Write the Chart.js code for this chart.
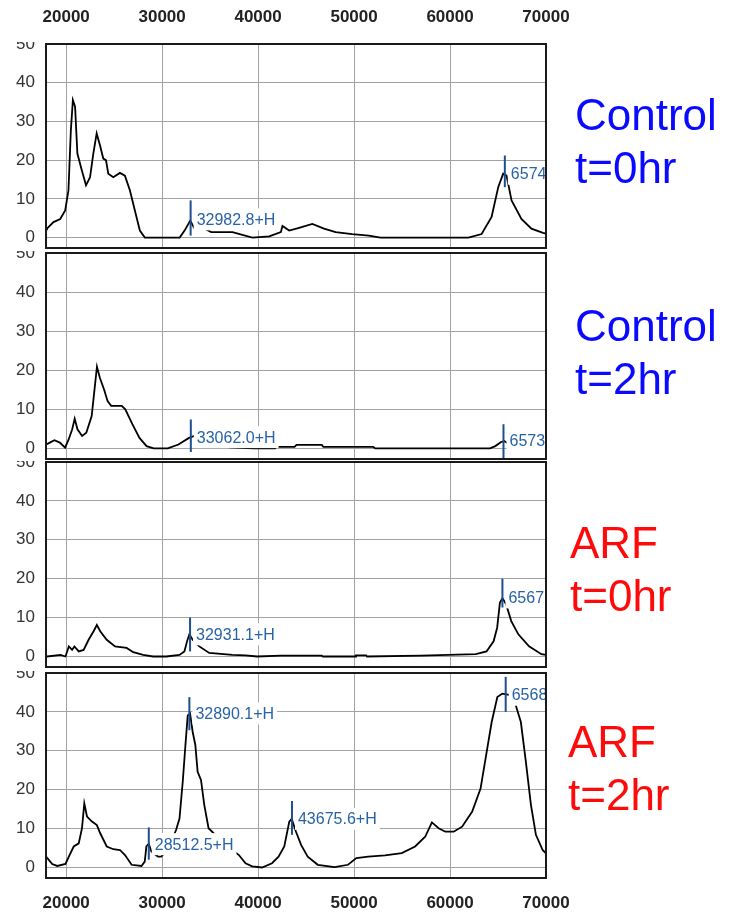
<!DOCTYPE html>
<html>
<head>
<meta charset="utf-8">
<script src="https://cdn.jsdelivr.net/npm/chart.js@4.4.0/dist/chart.umd.min.js"></script>
<style>
  html, body { margin: 0; padding: 0; background: #fff; }
  #page { position: relative; width: 736px; height: 915px; overflow: hidden; }
  canvas { position: absolute; left: 0; }
  .tag { position: absolute; font: 44px/53px 'Liberation Sans', Arial, sans-serif; white-space: nowrap; }
  .ctrl { color: #0a0aff; }
  .arf { color: #ff0a0a; }
</style>
</head>
<body>
<div id="page">
  <canvas id="p1" width="600" height="250" style="top:0px"></canvas>
  <canvas id="p2" width="600" height="211" style="top:250px"></canvas>
  <canvas id="p3" width="600" height="208" style="top:461px"></canvas>
  <canvas id="p4" width="600" height="246" style="top:669px"></canvas>
  <div class="tag ctrl" style="left:575px;top:88px">Control<br>t=0hr</div>
  <div class="tag ctrl" style="left:575px;top:299px">Control<br>t=2hr</div>
  <div class="tag arf" style="left:570px;top:516px">ARF<br>t=0hr</div>
  <div class="tag arf" style="left:568px;top:715px">ARF<br>t=2hr</div>
</div>
<script>
// mass axis ticks (Da)
const massTicks = [20000, 30000, 40000, 50000, 60000, 70000];
const intensityTicks = [0, 10, 20, 30, 40, 50];

// Control t=0hr
const ctrl0Mass = [17900, 18000, 18680, 19380, 19900, 20240, 20490, 20700, 20930, 21170, 21630, 22070, 22490, 22830, 23180, 23530, 23870, 24150, 24390, 24910, 25600, 26120, 26640, 27160, 27680, 28200, 31830, 32340, 32930, 33380, 34200, 35110, 37330, 39400, 41160, 42370, 42540, 43240, 44270, 45650, 46870, 48080, 49800, 51540, 52750, 61910, 63290, 64330, 65020, 65540, 65890, 66410, 67440, 68480, 69690, 70000];
const ctrl0Int = [2.1, 2.3, 4.0, 4.8, 7.0, 12.2, 27.7, 35.5, 33.8, 21.7, 17.4, 13.5, 15.6, 21.7, 26.9, 23.8, 20.4, 20.0, 16.5, 15.6, 16.7, 16.0, 12.2, 7.0, 1.8, 0, 0, 1.8, 4.4, 2.3, 2.6, 1.4, 1.4, 0, 0.3, 1.4, 3.0, 1.8, 2.5, 3.5, 2.3, 1.4, 0.9, 0.5, 0, 0, 0.9, 5.3, 13.0, 16.5, 16.0, 9.6, 4.8, 2.3, 1.2, 1.0];
const ctrl0Peaks = [
  { mass: 32970, low: 0.5, high: 9.6, text: '32982.8+H', at: 4.7 },
  { mass: 65710, low: 13.0, high: 21.2, text: '6574', at: 16.5 }
];

// Control t=2hr
const ctrl2Mass = [17900, 18150, 18780, 19340, 19890, 20260, 20630, 20890, 21180, 21660, 22100, 22660, 22920, 23210, 23510, 23950, 24320, 24690, 25790, 26160, 26900, 27640, 28380, 29110, 30590, 31700, 32800, 33360, 35000, 37000, 39520, 41770, 41950, 43800, 44000, 46640, 46800, 51990, 52200, 64170, 64720, 65280, 65650, 66200, 66750, 70000];
const ctrl2Int = [1.0, 1.3, 2.1, 1.5, 0.2, 2.3, 4.9, 7.6, 4.9, 3.2, 4.0, 8.3, 14.3, 20.9, 18.1, 15.1, 12.1, 10.9, 10.9, 10.0, 6.2, 2.7, 0.6, 0, 0, 1.0, 2.7, 3.2, 1.5, 0.3, 0, 0, 0.4, 0.4, 0.9, 0.9, 0.4, 0.4, 0, 0, 0.6, 1.6, 1.9, 1.0, 0.4, 0.2];
const ctrl2Peaks = [
  { mass: 32990, low: -0.9, high: 7.4, text: '33062.0+H', at: 2.9 },
  { mass: 65570, low: -2.6, high: 6.2, text: '6573', at: 1.9 }
];

// ARF t=0hr
const arf0Mass = [17900, 18040, 19410, 19930, 20280, 20620, 20860, 21310, 21820, 22340, 22860, 23200, 23550, 24230, 25090, 26300, 26990, 28020, 29050, 30430, 31810, 32320, 32600, 32840, 33180, 33870, 34910, 37320, 38690, 39900, 42400, 46640, 46750, 50110, 50200, 51260, 51350, 56970, 62690, 63800, 64540, 64910, 65200, 65460, 65830, 66380, 67120, 68230, 69520, 70000];
const arf0Int = [0.2, 0, 0.4, 0, 2.6, 1.7, 2.6, 1.3, 1.7, 4.3, 6.5, 8.1, 6.5, 4.3, 2.6, 2.2, 1.1, 0.4, 0, 0, 0.4, 1.3, 3.9, 5.7, 4.3, 2.6, 0.9, 0.4, 0.3, 0, 0.2, 0.2, 0, 0, 0.3, 0.3, 0, 0.2, 0.6, 1.3, 3.9, 7.4, 13.9, 15.0, 13.5, 9.1, 5.7, 2.6, 0.6, 0.4];
const arf0Peaks = [
  { mass: 32910, low: 1.3, high: 10.0, text: '32931.1+H', at: 5.7 },
  { mass: 65460, low: 12.6, high: 20.0, text: '6567', at: 15.2 }
];

// ARF t=2hr
const arf2Mass = [17900, 18040, 18550, 19070, 19930, 20280, 20790, 21310, 21650, 21890, 22170, 22690, 23200, 23550, 24230, 24920, 25610, 26130, 26820, 27850, 28190, 28360, 28610, 28880, 29230, 29570, 29910, 30700, 31460, 31810, 32150, 32430, 32670, 32910, 33180, 33460, 33700, 34050, 34390, 34840, 36500, 38000, 38690, 39380, 40410, 41450, 42130, 42730, 43250, 43500, 43950, 44480, 45170, 46220, 47970, 49370, 50240, 51470, 53220, 54970, 56360, 57410, 58110, 58810, 59510, 60380, 61260, 62310, 63180, 63880, 64340, 64930, 65450, 66150, 66850, 67380, 67900, 68430, 68950, 69650, 70000];
const arf2Int = [2.8, 2.4, 0.9, 0.4, 0.9, 2.8, 5.4, 6.2, 10.1, 16.5, 13.1, 11.8, 10.9, 8.8, 5.4, 4.7, 4.5, 3.2, 0.7, 0.4, 1.5, 5.4, 6.1, 4.1, 3.4, 2.8, 2.8, 5.0, 9.7, 12.6, 22.1, 31.5, 39.1, 39.6, 34.9, 31.5, 24.6, 22.5, 16.1, 10.1, 6.0, 3.2, 1.1, 0.3, 0, 1.1, 2.8, 5.4, 11.8, 12.5, 9.2, 5.8, 2.8, 0.7, 0.1, 0.7, 2.4, 2.8, 3.1, 3.7, 5.4, 7.9, 11.6, 10.1, 9.2, 9.2, 10.5, 14.4, 20.3, 30.6, 37.4, 43.8, 44.7, 44.4, 41.7, 37.4, 27.2, 16.1, 8.4, 4.5, 3.6];
const arf2Peaks = [
  { mass: 28610, low: 2.0, high: 10.3, text: '28512.5+H', at: 6.0 },
  { mass: 32840, low: 35.3, high: 43.8, text: '32890.1+H', at: 39.6 },
  { mass: 43530, low: 8.4, high: 17.1, text: '43675.6+H', at: 12.5 },
  { mass: 65800, low: 40.0, high: 49.0, text: '6568', at: 44.4 }
];

const FONT = "'Liberation Sans', Arial, sans-serif";
Chart.defaults.font.family = FONT;

// box around each plot
const frame = {
  id: 'frame',
  afterDraw(chart) {
    const { ctx, chartArea: a } = chart;
    ctx.save();
    ctx.strokeStyle = '#1a1a1a';
    ctx.lineWidth = 2;
    ctx.strokeRect(a.left, a.top, a.right - a.left, a.bottom - a.top);
    ctx.restore();
  }
};

// the "50" label is half hidden behind the panel above
const clipTopLabel = {
  id: 'clipTopLabel',
  beforeDraw(chart) {
    const s = chart.scales.y;
    if (s._clipWrapped) return;
    const orig = s.drawLabels;
    s.drawLabels = function (area) {
      const c = this.ctx;
      c.save();
      c.beginPath();
      c.rect(0, chart.chartArea.top - 2, this.right, chart.height);
      c.clip();
      orig.call(this, area);
      c.restore();
    };
    s._clipWrapped = true;
  }
};

// peak mass labels with their white boxes
function peakLabels(peaks) {
  return {
    id: 'peakLabels',
    afterDatasetsDraw(chart) {
      const { ctx, chartArea: a, scales: { x, y } } = chart;
      ctx.save();
      ctx.beginPath();
      ctx.rect(a.left, a.top, a.right - a.left, a.bottom - a.top);
      ctx.clip();
      ctx.font = '16px ' + FONT;
      ctx.textBaseline = 'middle';
      peaks.forEach(p => {
        const px = x.getPixelForValue(p.mass);
        const py = y.getPixelForValue(p.at);
        const w = ctx.measureText(p.text).width;
        ctx.fillStyle = '#fff';
        ctx.fillRect(px + 3, py - 11, w + 6, 22);
        ctx.fillStyle = '#2763a6';
        ctx.fillText(p.text, px + 6, py + 1);
      });
      ctx.restore();
    }
  };
}

function makePanel(id, mass, intensity, peaks, axis, padTop, padBottom) {
  const trace = mass.map((m, i) => ({ x: m, y: intensity[i] }));
  const markers = peaks.map(p => ({
    data: [{ x: p.mass, y: p.low }, { x: p.mass, y: p.high }],
    borderColor: '#1c4e90',
    borderWidth: 2,
    pointRadius: 0,
    order: 0
  }));
  const axisHeight = axis === 'top' ? 44 : axis === 'bottom' ? 37 : 0;

  new Chart(document.getElementById(id), {
    type: 'line',
    data: {
      datasets: [{
        data: trace,
        borderColor: '#000',
        borderWidth: 1.8,
        pointRadius: 0,
        tension: 0,
        order: 1
      }, ...markers]
    },
    options: {
      responsive: false,
      animation: false,
      devicePixelRatio: 1,
      layout: { padding: { top: padTop, bottom: padBottom, left: 0, right: 54 } },
      plugins: { legend: { display: false }, tooltip: { enabled: false } },
      scales: {
        x: {
          type: 'linear',
          position: axis === 'top' ? 'top' : 'bottom',
          min: 17900,
          max: massTicks[massTicks.length - 1],
          afterBuildTicks: s => { s.ticks = massTicks.map(v => ({ value: v })); },
          ticks: {
            display: axis !== 'none',
            padding: axis === 'top' ? 16 : 15,
            color: '#222',
            font: { size: 17, weight: 'bold' },
            maxRotation: 0,
            autoSkip: false,
            callback: v => String(v)
          },
          grid: { color: '#a3a3a3', lineWidth: 1, drawTicks: false },
          border: { display: false },
          afterFit: s => { s.height = axisHeight; s.paddingLeft = 0; s.paddingRight = 0; }
        },
        y: {
          min: -2.7,
          max: 50,
          afterBuildTicks: s => { s.ticks = intensityTicks.map(v => ({ value: v })); },
          ticks: { padding: 11, color: '#333', font: { size: 17 } },
          grid: { color: '#a3a3a3', lineWidth: 1, drawTicks: false },
          border: { display: false },
          afterFit: s => { s.width = 46; s.paddingTop = 0; s.paddingBottom = 0; }
        }
      }
    },
    plugins: [peakLabels(peaks), frame, clipTopLabel]
  });
}

makePanel('p1', ctrl0Mass, ctrl0Int, ctrl0Peaks, 'top', 0, 2);
makePanel('p2', ctrl2Mass, ctrl2Int, ctrl2Peaks, 'none', 3, 2);
makePanel('p3', arf0Mass, arf0Int, arf0Peaks, 'none', 1, 2);
makePanel('p4', arf2Mass, arf2Int, arf2Peaks, 'bottom', 4, 0);
</script>
</body>
</html>
